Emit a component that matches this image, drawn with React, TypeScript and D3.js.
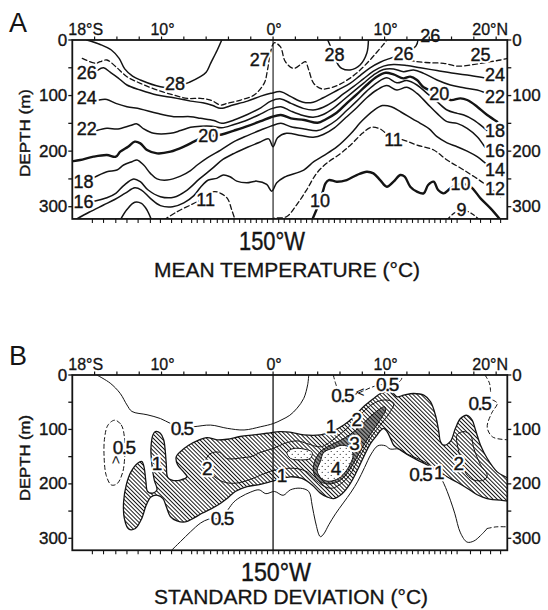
import React from "react";
import * as d3 from "d3";

type P = [number, number];

// ---------------- axis data ----------------
const latDomain: [number, number] = [-18, 21];
const depthMax = 322;
const topTickLats = [-16, -14, -12, -10, -8, -6, -4, -2, 0, 2, 4, 6, 8, 10, 12, 14, 16, 18, 20];
const topTickLabels = [
  { lat: -18, text: "18°S" },
  { lat: -10, text: "10°" },
  { lat: 0, text: "0°" },
  { lat: 10, text: "10°" },
  { lat: 20, text: "20°N" },
];
const stationLats = [
  -16.2, -15.2, -14.1, -13.1, -12.1, -11.0, -10.1, -9.1, -8.2, -7.3, -6.8, -6.2, -5.6, -5.0, -4.5, -4.0,
  -3.5, -3.0, -2.5, -2.0, -1.5, -1.0, -0.5, 0.0, 0.5, 1.0, 1.5, 2.0, 2.5, 3.0, 3.5, 4.0, 4.5, 5.0, 5.5,
  6.0, 6.5, 7.0, 7.5, 8.0, 8.5, 9.0, 9.5, 10.0, 10.5, 11.0, 11.5, 12.0, 12.5, 13.0, 13.5, 14.0, 14.5,
  15.0, 15.5, 16.0, 16.5, 17.7, 18.6, 19.5, 20.4,
];
const depthTicks = [0, 50, 100, 150, 200, 250, 300];
const depthLabels = [0, 100, 200, 300];

// ---------------- panel A: mean temperature isotherms [lat, depth m] ----------------
const iso28W: P[] = [[-16.7, 0], [-15.5, 8], [-14.5, 18], [-13.8, 33], [-13.3, 52], [-12.6, 65], [-11.9, 72], [-10.1, 84], [-8.9, 85], [-7.5, 76], [-6.6, 67], [-6.0, 58], [-5.6, 42], [-5.0, 18], [-4.6, 0]];
const iso27: P[] = [[-17.1, 33], [-15.9, 42], [-15.5, 39], [-14.9, 36], [-14.1, 48], [-13.1, 66], [-11.9, 78], [-10.4, 90], [-8.9, 99], [-7.7, 105], [-6.5, 105], [-5.6, 108], [-4.7, 117], [-4.1, 114], [-2.9, 108], [-1.7, 99], [-0.8, 78], [-0.5, 54], [-0.25, 24], [0.1, 5], [0.65, 12], [1.1, 39], [1.85, 51], [2.6, 42], [2.9, 39], [3.2, 54], [3.64, 78], [4.4, 88], [5.74, 82], [6.8, 70], [7.7, 56], [8.6, 38], [9.3, 22], [9.9, 8], [10.2, 0]];
const iso28E: P[] = [[4.9, 0], [5.2, 14], [5.5, 30], [5.85, 45], [6.15, 51], [6.9, 54], [7.8, 45], [8.4, 24], [8.55, 0]];
const iso26: P[] = [[-15.7, 54], [-15.2, 50], [-14.6, 58], [-13.9, 68], [-13.1, 81], [-11.9, 90], [-10.4, 99], [-8.9, 104], [-7.4, 110], [-6.3, 113], [-5.4, 118], [-4.7, 123], [-3.6, 117], [-2.3, 110], [-1.1, 101], [-0.2, 96], [0.7, 93], [1.6, 102], [2.7, 112], [3.6, 112], [4.5, 104], [5.8, 90], [6.9, 78], [7.8, 64], [8.7, 50], [9.6, 40], [10.5, 33], [11.7, 25], [12.8, 11], [13.0, 0]];
const iso25: P[] = [[12.2, 36], [12.9, 39], [14.1, 41], [15.3, 42], [16.5, 47], [17.7, 45], [18.6, 42], [19.5, 39], [20.4, 36], [21.0, 33]];
const iso24: P[] = [[-15.6, 108], [-14.9, 107], [-14.1, 114], [-13.1, 120], [-11.9, 124], [-10.4, 132], [-8.9, 138], [-7.4, 138], [-6.5, 141], [-5.3, 145], [-4.6, 150], [-3.5, 144], [-2.3, 134], [-1.1, 122], [-0.2, 110], [0.7, 106], [1.6, 114], [2.7, 123], [3.6, 126], [4.5, 121], [5.4, 111], [6.3, 97], [7.2, 84], [8.1, 70], [9.0, 56], [9.9, 47], [10.8, 44], [12.0, 46], [13.2, 50], [14.7, 55], [16.2, 60], [17.7, 64], [18.9, 68]];
const iso22: P[] = [[-15.8, 163], [-14.9, 159], [-13.9, 160], [-12.8, 154], [-12.2, 151], [-11.6, 160], [-10.7, 168], [-9.2, 168], [-8.3, 163], [-7.4, 157], [-6.5, 155], [-5.5, 155], [-4.6, 158], [-3.5, 152], [-2.3, 144], [-1.1, 133], [-0.2, 124], [0.7, 120], [1.6, 128], [2.7, 136], [3.6, 139], [4.5, 134], [5.4, 123], [6.3, 108], [7.2, 93], [8.1, 78], [9.0, 63], [9.9, 53], [10.8, 52], [11.7, 57], [12.6, 54], [13.5, 60], [14.7, 72], [15.9, 81], [17.1, 86], [18.3, 90], [18.9, 94]];
const iso20: P[] = [[-17.9, 218], [-17.3, 216], [-16.1, 210], [-14.9, 207], [-14.1, 210], [-13.7, 201], [-13.0, 192], [-12.4, 183], [-11.9, 186], [-11.3, 198], [-10.4, 204], [-9.2, 201], [-8.0, 192], [-7.1, 183], [-6.6, 178], [-5.8, 173], [-4.6, 170], [-3.5, 163], [-2.3, 155], [-1.1, 146], [-0.2, 139], [0.7, 135], [1.6, 141], [2.8, 144], [4.0, 149], [4.7, 143], [5.7, 131], [6.6, 114], [7.5, 98], [8.4, 81], [9.3, 66], [10.1, 59], [10.8, 62], [11.7, 69], [12.3, 66], [12.9, 72], [13.5, 85], [14.9, 97], [15.9, 108], [16.8, 105], [17.4, 108], [18.3, 120], [19.2, 135], [20.1, 147]];
const iso18: P[] = [[-16.2, 249], [-14.9, 237], [-14.0, 234], [-13.4, 225], [-12.65, 219], [-12.2, 216], [-11.6, 225], [-11.0, 240], [-10.4, 250], [-9.5, 252], [-8.3, 245], [-7.4, 235], [-6.8, 225], [-5.9, 212], [-4.7, 198], [-3.5, 183], [-2.3, 172], [-1.1, 162], [-0.2, 155], [0.7, 150], [1.6, 156], [2.8, 160], [4.0, 163], [4.7, 157], [5.7, 144], [6.6, 127], [7.5, 110], [8.4, 92], [9.3, 77], [10.2, 68], [11.1, 77], [12.0, 73], [12.9, 81], [13.8, 96], [14.7, 111], [15.6, 126], [16.5, 132], [17.1, 135], [18.0, 144], [18.9, 158], [19.2, 163]];
const iso16: P[] = [[-16.2, 291], [-14.9, 284], [-14.1, 276], [-13.4, 262], [-12.5, 250], [-11.9, 255], [-11.2, 270], [-10.1, 282], [-8.9, 283], [-7.7, 270], [-6.6, 250], [-5.5, 232], [-4.5, 215], [-3.4, 203], [-2.3, 193], [-1.2, 184], [-0.4, 178], [0.0, 192], [0.4, 176], [1.2, 168], [2.5, 172], [3.6, 175], [4.5, 170], [5.5, 158], [6.5, 140], [7.5, 122], [8.4, 104], [9.3, 90], [10.2, 82], [11.1, 90], [12.0, 85], [12.9, 96], [13.8, 114], [14.7, 132], [15.6, 147], [16.5, 150], [17.4, 159], [18.3, 174], [19.0, 193]];
const iso14: P[] = [[-17.6, 322], [-16.5, 310], [-15.2, 297], [-14.2, 287], [-13.2, 275], [-12.4, 266], [-11.8, 270], [-11.0, 285], [-10.1, 298], [-9.0, 300], [-8.0, 293], [-7.1, 280], [-6.5, 265], [-5.8, 252], [-5.05, 249], [-4.46, 243], [-3.86, 246], [-3.26, 254], [-2.36, 257], [-1.46, 254], [-0.57, 260], [-0.12, 272], [0.33, 257], [1.0, 247], [2.75, 234], [3.65, 219], [4.54, 208], [5.74, 192], [6.9, 170], [8.0, 145], [9.0, 127], [9.8, 118], [10.6, 120], [11.5, 130], [12.5, 142], [13.2, 150], [14.0, 160], [14.7, 174], [15.6, 185], [16.5, 192], [17.4, 200], [18.3, 210], [19.0, 221], [19.4, 228]];
const iso12W: P[] = [[-13.7, 324], [-13.1, 305], [-12.4, 292], [-11.8, 294], [-11.3, 306], [-10.9, 324]];
const iso11W: P[] = [[-9.8, 324], [-8.6, 309], [-7.4, 297], [-6.8, 291], [-6.05, 284], [-5.3, 273], [-4.7, 276], [-4.1, 285], [-3.7, 306], [-3.4, 324]];
const iso11E: P[] = [[-0.3, 324], [0.05, 321], [1.2, 318], [2.1, 297], [3.0, 270], [3.9, 240], [4.8, 222], [6.0, 205], [7.0, 188], [8.0, 168], [8.8, 157], [9.6, 160], [10.4, 172], [11.7, 180], [12.9, 189], [14.4, 198], [15.6, 216], [17.1, 234], [18.9, 258], [20.4, 282]];
const iso10: P[] = [[3.5, 324], [3.9, 305], [4.2, 290], [4.5, 270], [4.7, 258], [5.0, 252], [5.7, 255], [6.6, 252], [7.5, 243], [8.4, 237], [9.0, 240], [9.6, 252], [10.2, 264], [10.8, 255], [11.4, 243], [11.8, 246], [12.3, 264], [12.9, 273], [13.5, 276], [13.9, 261], [14.4, 255], [14.8, 270], [15.3, 276], [15.9, 267], [16.8, 259], [17.7, 264], [18.6, 285], [19.5, 303], [20.4, 324]];
const iso9: P[] = [[15.6, 324], [16.2, 312], [16.9, 306], [17.5, 309], [18.0, 315], [18.5, 324]];

const labelsA = [
  { t: "26", lat: -16.7, dep: 60 }, { t: "24", lat: -16.7, dep: 104 }, { t: "22", lat: -16.7, dep: 160 },
  { t: "18", lat: -17.0, dep: 255 }, { t: "16", lat: -17.0, dep: 291 }, { t: "28", lat: -8.8, dep: 80 },
  { t: "27", lat: -1.2, dep: 36 }, { t: "20", lat: -5.8, dep: 173 }, { t: "11", lat: -6.05, dep: 288 },
  { t: "28", lat: 5.5, dep: 27 }, { t: "26", lat: 11.7, dep: 25 }, { t: "25", lat: 18.6, dep: 27 },
  { t: "24", lat: 19.9, dep: 63 }, { t: "22", lat: 19.9, dep: 103 }, { t: "20", lat: 14.9, dep: 97 },
  { t: "18", lat: 19.9, dep: 164 }, { t: "16", lat: 19.9, dep: 199 }, { t: "14", lat: 19.9, dep: 234 },
  { t: "12", lat: 19.9, dep: 269 }, { t: "11", lat: 10.8, dep: 180 }, { t: "10", lat: 4.2, dep: 290 },
  { t: "10", lat: 16.8, dep: 259 }, { t: "9", lat: 16.9, dep: 306 },
];
const labelsAOutside = [{ t: "26", lat: 14.1, dep: -8 }];

// ---------------- panel B: standard deviation ----------------
const sd1Region: P[] = [[-10.56, 104], [-10.11, 107], [-9.81, 119], [-9.66, 141], [-9.57, 165], [-9.45, 188], [-9.07, 193], [-8.32, 193], [-7.72, 187], [-8.02, 178], [-8.56, 165], [-8.68, 150], [-8.26, 140], [-7.57, 129], [-6.82, 121], [-5.93, 115], [-5.03, 119], [-4.13, 118], [-2.94, 113], [-1.74, 110], [-0.55, 107], [0.65, 104], [1.5, 105], [2.75, 110], [4.24, 110], [5.29, 104], [6.34, 92], [7.23, 77], [8.13, 58], [9.03, 43], [9.63, 34], [10.22, 31], [10.67, 32], [11.12, 40], [11.72, 37], [12.61, 34], [13.51, 37], [14.11, 49], [14.56, 74], [14.86, 104], [15.0, 122], [15.3, 129], [15.9, 122], [16.35, 98], [16.8, 80], [17.4, 74], [17.85, 83], [18.15, 101], [18.6, 129], [19.19, 153], [20.09, 178], [21.3, 195], [21.3, 230], [20.39, 230], [19.19, 227], [18.3, 220], [17.4, 208], [16.5, 197], [15.6, 187], [14.71, 176], [13.81, 165], [12.91, 156], [12.02, 146], [11.27, 136], [10.82, 129], [10.52, 116], [10.22, 104], [9.92, 98], [9.63, 102], [9.33, 110], [8.73, 126], [8.13, 150], [7.53, 176], [6.93, 199], [6.19, 218], [5.44, 227], [4.84, 224], [4.24, 217], [3.5, 202], [2.6, 190], [1.55, 187], [0.66, 191], [-0.24, 196], [-1.14, 201], [-2.34, 205], [-3.39, 214], [-4.13, 227], [-4.73, 236], [-5.48, 245], [-6.37, 254], [-7.12, 263], [-7.87, 270], [-8.62, 268], [-9.21, 260], [-9.57, 242], [-9.87, 227], [-10.35, 221], [-10.95, 224], [-11.37, 239], [-11.76, 263], [-12.35, 282], [-12.95, 283], [-13.34, 263], [-13.4, 233], [-13.16, 202], [-12.74, 178], [-12.14, 162], [-11.76, 159], [-11.55, 171], [-11.4, 196], [-11.25, 214], [-10.77, 217], [-10.41, 211], [-10.65, 193], [-10.86, 165], [-10.95, 135], [-10.77, 110]];
const sd2Loop: P[] = [[-6.0, 155], [-5.6, 144], [-4.8, 142], [-4.2, 153], [-3.5, 154], [-2.8, 152], [-2.0, 150], [-1.1, 142], [0.0, 135], [1.0, 126], [2.15, 121], [3.05, 126], [4.24, 132], [4.99, 125], [5.74, 113], [6.64, 98], [7.38, 83], [8.43, 61], [9.33, 49], [10.22, 46], [10.82, 52], [10.52, 67], [9.92, 84], [9.3, 100], [8.7, 117], [8.1, 138], [7.5, 160], [6.9, 183], [6.2, 198], [5.3, 208], [4.54, 204], [3.65, 190], [3.05, 178], [2.15, 172], [0.96, 172], [-0.24, 177], [-1.46, 187], [-2.5, 195], [-3.56, 199], [-4.5, 196], [-5.3, 186], [-5.9, 172]];
const sd2LoopEast: P[] = [[16.5, 110], [17.1, 104], [17.7, 110], [18.0, 135], [18.6, 165], [19.2, 184], [18.9, 193], [18.0, 193], [17.4, 184], [16.95, 165], [16.65, 141]];
const sd3Loop: P[] = [[3.65, 165], [4.18, 142], [5.14, 129], [6.04, 120], [6.93, 109], [7.83, 94], [8.73, 76], [9.6, 62], [10.0, 58], [10.1, 64], [9.8, 76], [9.3, 92], [8.7, 110], [8.1, 130], [7.5, 152], [6.9, 173], [6.3, 189], [5.6, 198], [4.84, 200], [4.1, 194], [3.65, 180]];
const sd3Blob: P[] = [[1.25, 142], [1.85, 135], [2.75, 136], [3.5, 142], [3.35, 153], [2.45, 156], [1.55, 153]];
const sd4Loop: P[] = [[4.24, 159], [4.54, 142], [5.44, 134], [6.19, 129], [6.93, 134], [7.17, 148], [6.93, 163], [6.4, 180], [5.68, 192], [4.84, 195], [4.24, 188], [3.95, 175]];
const sd05Upper: P[] = [[-15.8, 0], [-14.6, 15], [-13.7, 34], [-13.1, 55], [-12.65, 67], [-11.3, 73], [-10.1, 80], [-9.2, 89], [-8.2, 96], [-7.1, 95], [-5.6, 92], [-4.1, 98], [-2.6, 101], [-1.1, 95], [0.05, 89], [0.8, 82], [1.5, 74], [2.15, 61], [2.75, 43], [3.1, 18], [3.2, 0]];
const sd05Ellipse: P[] = [[-14.2, 83], [-13.6, 92], [-13.3, 120], [-13.3, 150], [-13.5, 180], [-14.0, 200], [-14.5, 202], [-14.95, 185], [-15.15, 150], [-15.1, 115], [-14.8, 92]];
const sd05Lower: P[] = [[-9.2, 324], [-8.3, 306], [-7.4, 288], [-6.5, 272], [-5.8, 265], [-4.7, 262], [-3.5, 233], [-2.9, 224], [-2.0, 215], [-1.25, 211], [-0.65, 218], [0.13, 214], [0.9, 221], [1.55, 211], [2.45, 208], [3.2, 214], [3.5, 239], [3.8, 270], [4.24, 297], [4.54, 292], [5.0, 275], [5.6, 255], [6.3, 235], [7.0, 215], [7.6, 195], [8.2, 170], [8.8, 145], [9.4, 130], [10.07, 130], [10.5, 136], [11.27, 136], [12.0, 145], [12.9, 153], [13.8, 162], [14.7, 178], [15.3, 199], [15.9, 230], [16.3, 255], [16.8, 290], [17.4, 307], [18.0, 305], [18.6, 295], [19.2, 282]];
const sd05LowerEast: P[] = [[19.2, 282], [20.0, 279], [21.1, 279]];
const sd05Top: P[] = [[5.4, 0], [5.6, 15], [6.0, 35], [6.6, 42], [7.3, 36], [8.0, 30], [8.9, 22], [9.6, 18], [10.5, 16], [11.2, 14], [11.5, 8], [11.6, 0]];
const sd05East1: P[] = [[19.0, 0], [19.4, 15], [19.5, 30]];
const sd05East2: P[] = [[19.7, 46], [20.1, 52], [19.6, 70], [19.2, 96], [19.7, 114], [21.1, 119]];

const labelsB = [
  { t: "0.5", lat: -8.2, dep: 99 }, { t: "0.5", lat: -13.4, dep: 133 }, { t: "1", lat: -10.4, dep: 163 },
  { t: "2", lat: -5.9, dep: 172 }, { t: "1", lat: 0.8, dep: 185 }, { t: "0.5", lat: -4.6, dep: 263 },
  { t: "1", lat: 5.2, dep: 95 }, { t: "2", lat: 7.5, dep: 81 }, { t: "3", lat: 7.3, dep: 126 },
  { t: "4", lat: 5.65, dep: 172 }, { t: "0.5", lat: 13.2, dep: 183 }, { t: "1", lat: 14.9, dep: 180 },
  { t: "2", lat: 16.65, dep: 162 }, { t: "0.5", lat: 6.2, dep: 38 }, { t: "0.5", lat: 10.2, dep: 17 },
  { t: "0.5", lat: 18.5, dep: 53 },
];
const lessThanMarks = [{ lat: -14.0, dep: 156, rot: 90 }, { lat: 7.8, dep: 30, rot: 0 }];

const INK = "#141414";
const FONT = "'Liberation Sans', Arial, Helvetica, sans-serif";

export default function App() {
  const x = d3.scaleLinear().domain(latDomain).range([72.3, 507.3]);
  const yA = d3.scaleLinear().domain([0, 300]).range([40, 206.7]);
  const yB = d3.scaleLinear().domain([0, 300]).range([375, 538.3]);
  const openGen = (y: any) =>
    d3.line<P>().x((d) => x(d[0])).y((d) => y(d[1])).curve(d3.curveCatmullRom.alpha(0.5));
  const closedGen = (y: any) =>
    d3.line<P>().x((d) => x(d[0])).y((d) => y(d[1])).curve(d3.curveCatmullRomClosed.alpha(0.5));

  const L = x(-18);
  const R = x(21);

  const frame = (y: any, key: string) => {
    const T = y(0);
    const B = y(depthMax);
    return (
      <g key={key} stroke={INK} fill="none">
        {topTickLats.map((l) => (
          <line key={"t" + l} x1={x(l)} x2={x(l)} y1={T} y2={T - 3.5} strokeWidth={1.2} />
        ))}
        {stationLats.map((l) => (
          <line key={"s" + l} x1={x(l)} x2={x(l)} y1={B} y2={B + 4} strokeWidth={1.1} />
        ))}
        {depthTicks.map((d) => (
          <g key={"d" + d}>
            <line x1={L - 4} x2={L} y1={y(d)} y2={y(d)} strokeWidth={1.3} />
            <line x1={R} x2={R + 4} y1={y(d)} y2={y(d)} strokeWidth={1.3} />
          </g>
        ))}
        <rect x={L} y={T} width={R - L} height={B - T} strokeWidth={1.8} />
        <g fill={INK} stroke={INK} strokeWidth={0.35} fontSize={17}>
          {depthLabels.map((d) => (
            <g key={"dl" + d}>
              <text x={L - 5} y={y(d)} textAnchor="end" dominantBaseline="central">{d}</text>
              <text x={R + 5} y={y(d)} textAnchor="start" dominantBaseline="central">{d}</text>
            </g>
          ))}
        </g>
        <g fill={INK} stroke={INK} strokeWidth={0.3} fontSize={16}>
          {topTickLabels.map((t) => (
            <text
              key={"tl" + t.lat + t.text}
              x={t.lat === -18 ? x(t.lat) - 4 : x(t.lat) + (t.lat === 20 ? -6 : 1)}
              y={T - 5}
              textAnchor={t.lat === -18 ? "start" : "middle"}
            >
              {t.text}
            </text>
          ))}
        </g>
      </g>
    );
  };

  const label = (t: string, px: number, py: number, size: number, key: string) => {
    const common = {
      x: px,
      y: py,
      textAnchor: "middle" as const,
      dominantBaseline: "central" as const,
      fontSize: size,
      letterSpacing: t === "0.5" ? -1.5 : 0,
    };
    return (
      <g key={key}>
        <text {...common} fill="#fff" stroke="#fff" strokeWidth={4.5} strokeLinejoin="round">{t}</text>
        <text {...common} fill={INK} stroke={INK} strokeWidth={0.4}>{t}</text>
      </g>
    );
  };

  const lA = openGen(yA);
  const lB = openGen(yB);
  const cB = closedGen(yB);

  const specA = [
    { d: iso28W, w: 1.5, dash: "" },
    { d: iso27, w: 1.3, dash: "5,3" },
    { d: iso28E, w: 1.5, dash: "" },
    { d: iso26, w: 1.5, dash: "" },
    { d: iso25, w: 1.3, dash: "5,3" },
    { d: iso24, w: 1.5, dash: "" },
    { d: iso22, w: 1.5, dash: "" },
    { d: iso20, w: 2.4, dash: "" },
    { d: iso18, w: 1.5, dash: "" },
    { d: iso16, w: 1.5, dash: "" },
    { d: iso14, w: 1.5, dash: "" },
    { d: iso12W, w: 1.5, dash: "" },
    { d: iso11W, w: 1.3, dash: "5,3" },
    { d: iso11E, w: 1.3, dash: "5,3" },
    { d: iso10, w: 2.4, dash: "" },
    { d: iso9, w: 1.3, dash: "4,3" },
  ];

  const specB = [
    { d: sd05Upper, dash: "" },
    { d: sd05Lower, dash: "" },
    { d: sd05LowerEast, dash: "4,3" },
    { d: sd05Top, dash: "4,3" },
    { d: sd05East1, dash: "4,3" },
    { d: sd05East2, dash: "4,3" },
  ];

  return (
    <svg
      width={548}
      height={610}
      viewBox="0 0 548 610"
      style={{ position: "absolute", left: 0, top: 0, background: "#fff" }}
      fontFamily={FONT}
    >
      <defs>
        <clipPath id="clipA">
          <rect x={L} y={yA(0)} width={R - L} height={yA(depthMax) - yA(0)} />
        </clipPath>
        <clipPath id="clipB">
          <rect x={L} y={yB(0)} width={R - L} height={yB(depthMax) - yB(0)} />
        </clipPath>
        <pattern id="hatch" patternUnits="userSpaceOnUse" width={2.9} height={6} patternTransform="rotate(-45)">
          <line x1={1.45} y1={0} x2={1.45} y2={6} stroke={INK} strokeWidth={1.0} />
        </pattern>
        <pattern id="hatchDense" patternUnits="userSpaceOnUse" width={2} height={6} patternTransform="rotate(-45)">
          <line x1={1} y1={0} x2={1} y2={6} stroke={INK} strokeWidth={1.0} />
        </pattern>
        <pattern id="dots" patternUnits="userSpaceOnUse" width={6} height={6}>
          <rect width={6} height={6} fill="#fff" />
          <circle cx={1.2} cy={1.5} r={0.6} fill={INK} />
          <circle cx={4.2} cy={4.3} r={0.6} fill={INK} />
        </pattern>
      </defs>
      <rect width={548} height={610} fill="#fff" />

      {/* ---------------- Panel A ---------------- */}
      <text x={18} y={32} fontSize={27} textAnchor="middle" fill={INK}>A</text>
      <g clipPath="url(#clipA)" fill="none" stroke={INK} strokeLinejoin="round" strokeLinecap="round">
        <line x1={x(0)} x2={x(0)} y1={yA(0)} y2={yA(depthMax)} strokeWidth={1.1} />
        {specA.map((s, i) => (
          <path key={"a" + i} d={lA(s.d) || ""} strokeWidth={s.w} strokeDasharray={s.dash || undefined} />
        ))}
      </g>
      {labelsA.map((l, i) => label(l.t, x(l.lat), yA(l.dep), 18, "la" + i))}
      {labelsAOutside.map((l, i) => label(l.t, x(l.lat), yA(l.dep), 18, "lao" + i))}
      {frame(yA, "frameA")}
      <text x={24} y={133} fontSize={15} fill={INK} stroke={INK} strokeWidth={0.4} textAnchor="middle" transform="rotate(-90 24 133)" dominantBaseline="central" textLength={88} lengthAdjust="spacingAndGlyphs">
        DEPTH (m)
      </text>
      <text x={272} y={250} fontSize={26} fill={INK} stroke={INK} strokeWidth={0.4} textAnchor="middle" textLength={66} lengthAdjust="spacingAndGlyphs">150°W</text>
      <text x={287} y={277} fontSize={20} fill={INK} stroke={INK} strokeWidth={0.3} textAnchor="middle" textLength={266} lengthAdjust="spacingAndGlyphs">MEAN TEMPERATURE (°C)</text>

      {/* ---------------- Panel B ---------------- */}
      <text x={18} y={365} fontSize={27} textAnchor="middle" fill={INK}>B</text>
      <g clipPath="url(#clipB)" stroke={INK} strokeLinejoin="round" strokeLinecap="round">
        <path d={cB(sd1Region) || ""} fill="url(#hatch)" strokeWidth={1.3} />
        <path d={cB(sd2Loop) || ""} fill="none" strokeWidth={1} />
        <path d={cB(sd3Loop) || ""} fill="url(#hatchDense)" strokeWidth={1} />
        <path d={cB(sd4Loop) || ""} fill="url(#dots)" strokeWidth={1} />
        <path d={cB(sd3Blob) || ""} fill="url(#dots)" strokeWidth={1} />
        <path d={cB(sd2LoopEast) || ""} fill="none" strokeWidth={1} />
        <path d={cB(sd05Ellipse) || ""} fill="none" strokeWidth={1} strokeDasharray="4,3" />
        {specB.map((s, i) => (
          <path key={"b" + i} d={lB(s.d) || ""} fill="none" strokeWidth={1} strokeDasharray={s.dash || undefined} />
        ))}
        <line x1={x(0)} x2={x(0)} y1={yB(0)} y2={yB(depthMax)} strokeWidth={1.3} />
      </g>
      {labelsB.map((l, i) => label(l.t, x(l.lat), yB(l.dep), 19, "lb" + i))}
      {lessThanMarks.map((m, i) => (
        <text
          key={"lt" + i}
          x={x(m.lat)}
          y={yB(m.dep)}
          fontSize={15}
          fill={INK}
          textAnchor="middle"
          dominantBaseline="central"
          transform={`rotate(${m.rot} ${x(m.lat)} ${yB(m.dep)})`}
        >
          {"<"}
        </text>
      ))}
      {frame(yB, "frameB")}
      <text x={24} y={458} fontSize={15} fill={INK} stroke={INK} strokeWidth={0.4} textAnchor="middle" transform="rotate(-90 24 458)" dominantBaseline="central" textLength={86} lengthAdjust="spacingAndGlyphs">
        DEPTH (m)
      </text>
      <text x={276} y={581} fontSize={26} fill={INK} stroke={INK} strokeWidth={0.4} textAnchor="middle" textLength={70} lengthAdjust="spacingAndGlyphs">150°W</text>
      <text x={291} y={604} fontSize={20} fill={INK} stroke={INK} strokeWidth={0.3} textAnchor="middle" textLength={274} lengthAdjust="spacingAndGlyphs">STANDARD DEVIATION (°C)</text>
    </svg>
  );
}
